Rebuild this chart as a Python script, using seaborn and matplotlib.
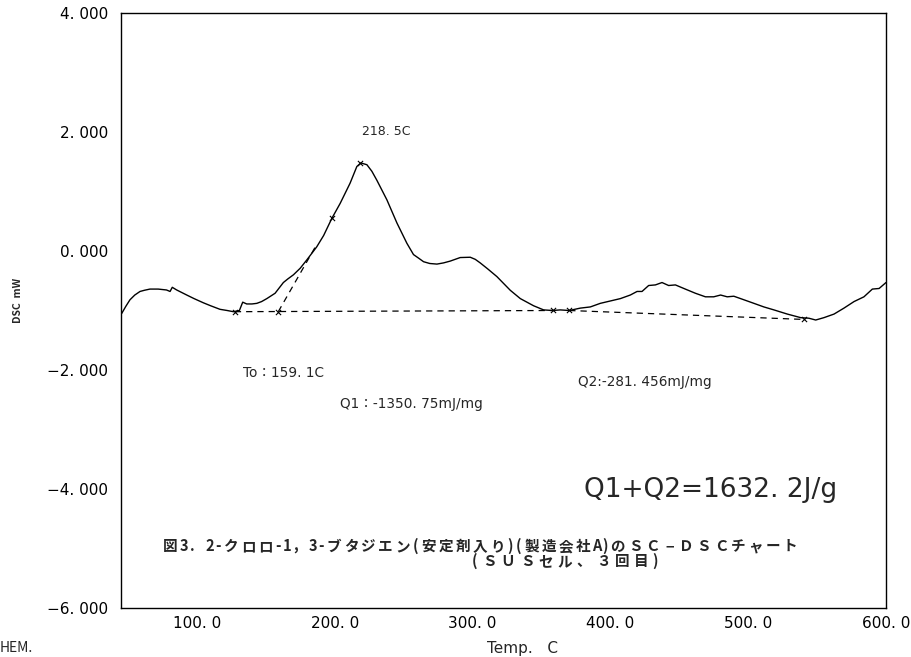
import numpy as np
import pandas as pd
import matplotlib
matplotlib.use("Agg")
import matplotlib.pyplot as plt
import seaborn as sns

# DSC trace: temperature (C) and heat flow (mW)
temp = [45.5, 48.5, 51.5, 55.0, 58.8, 62.0, 66.0, 72.0, 78.0, 80.6, 82.2, 85.4,
        92.7, 98.0, 104.7, 110.0, 116.8, 122.0, 126.5, 130.9, 133.3, 136.2,
        140.0, 143.5, 147.0, 150.8, 156.8, 162.8, 166.0, 170.1, 175.0, 179.8,
        187.0, 192.0, 198.0, 204.0, 211.2, 216.1, 219.0, 223.4, 227.0, 230.6,
        237.9, 245.2, 252.4, 257.2, 260.9, 264.5, 269.0, 274.2, 279.0, 283.8,
        291.1, 298.4, 302.0, 305.6, 311.0, 317.7, 327.4, 334.7, 344.3, 351.6,
        358.1, 363.7, 370.2, 378.2, 385.5, 392.7, 400.0, 407.3, 414.5, 419.4,
        423.0, 427.8, 432.7, 437.5, 442.3, 447.2, 454.4, 461.7, 469.0, 475.0,
        480.0, 484.8, 489.6, 494.5, 504.2, 511.4, 518.7, 528.4, 538.1, 544.1,
        549.0, 555.0, 562.3, 569.5, 576.8, 584.0, 590.1, 595.0, 600.0]
dsc = [-1.05, -0.93, -0.82, -0.74, -0.68, -0.66, -0.64, -0.64, -0.655, -0.68,
       -0.61, -0.655, -0.74, -0.80, -0.87, -0.92, -0.98, -1.00, -1.02, -1.00,
       -0.86, -0.89, -0.89, -0.88, -0.85, -0.80, -0.71, -0.53, -0.47, -0.40,
       -0.29, -0.15, 0.07, 0.26, 0.55, 0.80, 1.14, 1.42, 1.48, 1.45, 1.34,
       1.19, 0.86, 0.47, 0.13, -0.06, -0.12, -0.18, -0.21, -0.22, -0.20, -0.17,
       -0.11, -0.105, -0.14, -0.20, -0.30, -0.43, -0.66, -0.80, -0.92, -0.99,
       -1.00, -0.99, -1.00, -0.96, -0.94, -0.88, -0.84, -0.80, -0.74, -0.68,
       -0.68, -0.58, -0.57, -0.53, -0.58, -0.57, -0.64, -0.71, -0.77, -0.77,
       -0.74, -0.77, -0.76, -0.80, -0.88, -0.94, -0.99, -1.06, -1.12, -1.13,
       -1.16, -1.12, -1.06, -0.96, -0.85, -0.77, -0.64, -0.63, -0.53]

# Integration baselines and onset tangent
base1_t = [127.6, 358.1]
base1_v = [-1.02, -1.00]
base2_t = [370.2, 540.4]
base2_v = [-1.00, -1.15]
tangent_t = [159.1, 186.0]
tangent_v = [-1.02, 0.07]

# Marked points
mark_t = [127.6, 159.1, 198.0, 218.5, 358.1, 370.2, 540.4]
mark_v = [-1.02, -1.02, 0.55, 1.48, -1.00, -1.00, -1.15]

xticks = [100, 200, 300, 400, 500, 600]
xtick_labels = ["100. 0", "200. 0", "300. 0", "400. 0", "500. 0", "600. 0"]
yticks = [4, 2, 0, -2, -4, -6]
ytick_labels = ["4. 000", "2. 000", "0. 000", "−2. 000", "−4. 000", "−6. 000"]

caption1 = "図3. 2-クロロ-1, 3-ブタジエン(安定剤入り)(製造会社A)のＳＣ−ＤＳＣチャート"
caption2 = "(ＳＵＳセル、３回目)"

sns.set_style("white")
LATIN = ["DejaVu Sans", "Noto Sans CJK JP"]
CJK = ["Noto Sans CJK JP", "DejaVu Sans"]
plt.rcParams["font.family"] = LATIN

W, H = 912, 657
fig = plt.figure(figsize=(W / 100, H / 100), dpi=100)
ax = fig.add_axes([121 / W, 1 - 608 / H, (886 - 121) / W, (608 - 13) / H])

df = pd.DataFrame({"temp": temp, "dsc": dsc})
sns.lineplot(data=df, x="temp", y="dsc", ax=ax, color="black", linewidth=1.0,
             sort=False, estimator=None)

for tt, vv in [(base1_t, base1_v), (base2_t, base2_v), (tangent_t, tangent_v)]:
    sns.lineplot(x=tt, y=vv, ax=ax, color="black", linewidth=0.9,
                 linestyle=(0, (5, 4)), estimator=None, sort=False)

ax.scatter(mark_t, mark_v, marker="x", s=14, color="black", linewidths=0.8, zorder=5)

ax.set_xlim(45, 600)
ax.set_ylim(-6, 4)
ax.set_xticks(xticks)
ax.set_xticklabels(xtick_labels)
ax.set_yticks(yticks)
ax.set_yticklabels(ytick_labels)
ax.tick_params(axis="both", direction="in", length=5, width=0.9, colors="black",
               labelsize=11, top=False, right=False)
ax.tick_params(axis="y", pad=9)
ax.tick_params(axis="x", pad=6)
for s in ax.spines.values():
    s.set_visible(True)
    s.set_color("black")
    s.set_linewidth(1.0)
ax.set_xlabel("")
ax.set_ylabel("")

# Peak / onset / heat annotations
ax.text(220, 2.0, "218. 5C", fontsize=9, va="center", ha="left")
ax.text(133.5, -2.05, "To：159. 1C", fontsize=9.8, va="center", ha="left")
ax.text(204, -2.57, "Q1：-1350. 75mJ/mg", fontsize=9.8, va="center", ha="left")
ax.text(376.5, -2.2, "Q2:-281. 456mJ/mg", fontsize=9.8, va="center", ha="left")
ax.text(381, -4.02, "Q1+Q2=1632. 2J/g", fontsize=19, va="center", ha="left")


def grid_text(s, x0, pitch, y_base, size):
    """Lay out caption characters on a fixed pitch; ASCII takes half a cell."""
    x = x0
    for c in s:
        u = 0.5 if ord(c) < 128 else 1.0
        if c != " ":
            fig.text((x + u * pitch / 2) / W, 1 - y_base / H, c, fontsize=size,
                     ha="center", va="baseline", fontweight="bold", family=CJK)
        x += u * pitch


grid_text(caption1, 162, 17.2, 551, 10.5)
grid_text(caption2, 470, 19.0, 566, 10.5)

# Axis titles and corner tag
fig.text(18 / W, 1 - 300 / H, "DSC  mW", rotation=90, fontsize=7.5,
         ha="center", va="center", fontweight="bold", family=CJK)
fig.text(523 / W, 1 - 648 / H, "Temp.   C", fontsize=11, ha="center", va="center")
fig.text(0, 1 - 648 / H, "HEM.", fontsize=10, ha="left", va="center", family=CJK)

fig.savefig("out.png", dpi=100)
